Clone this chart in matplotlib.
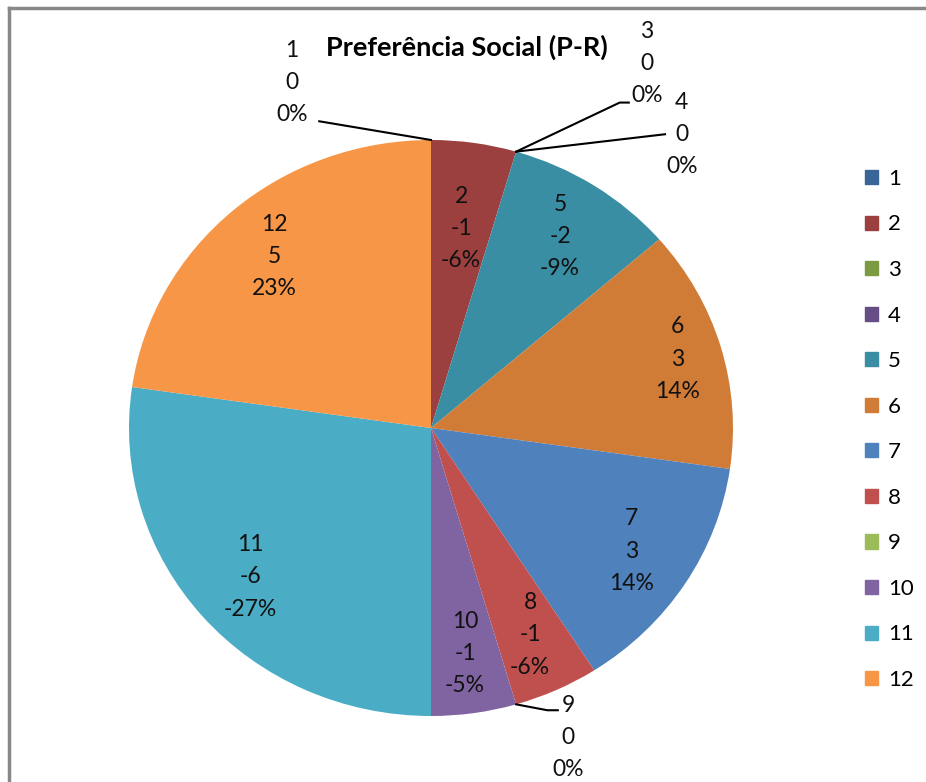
import numpy as np
import matplotlib.pyplot as plt
from matplotlib.lines import Line2D

plt.rcParams['font.family'] = ['Lato', 'DejaVu Sans']

categories = ['1', '2', '3', '4', '5', '6', '7', '8', '9', '10', '11', '12']
values = [0, -1, 0, 0, -2, 3, 3, -1, 0, -1, -6, 5]
pct_labels = ['0%', '-6%', '0%', '0%', '-9%', '14%', '14%', '-6%', '0%', '-5%', '-27%', '23%']
colors = ['#3A6598', '#9B403E', '#7B9A42', '#654E85', '#3A8EA4', '#D07C37',
          '#4F81BD', '#C0504D', '#9BBB59', '#8064A2', '#4BACC6', '#F79646']

# label placement (layout only)
label_r = {'2': 0.70, '6': 0.85}
zero_label_pos = {'1': (-0.46, 1.20), '3': (0.715, 1.265), '4': (0.83, 1.02), '9': (0.455, -1.075)}
zero_leader_end = {'1': [(-0.37, 1.065)], '3': [(0.625, 1.13), (0.655, 1.13)],
                   '4': [(0.775, 1.02)], '9': [(0.385, -0.98), (0.42, -0.98)]}

fig = plt.figure(figsize=(9.26, 7.82), dpi=100)
ax = fig.add_axes([129 / 926, 66 / 782, 604 / 926, 576 / 782])

sizes = np.abs(values)
wedges, _ = ax.pie(sizes, colors=colors, startangle=90, counterclock=False,
                   radius=1, wedgeprops=dict(linewidth=0))
ax.set_aspect('auto')
ax.set_xlim(-1, 1)
ax.set_ylim(-1, 1)
ax.axis('off')

for w, cat, val, pct in zip(wedges, categories, values, pct_labels):
    txt = f'{cat}\n{val}\n{pct}'
    if val != 0:
        mid = np.deg2rad((w.theta1 + w.theta2) / 2)
        r = label_r.get(cat, 0.79)
        ax.text(r * np.cos(mid), r * np.sin(mid), txt, ha='center', va='center',
                fontsize=16.5, linespacing=1.65, color='#111111')
    else:
        ang = np.deg2rad(w.theta1)
        start = (np.cos(ang), np.sin(ang))
        pts = [start] + zero_leader_end[cat]
        ax.plot([p[0] for p in pts], [p[1] for p in pts], color='black', lw=1.5, clip_on=False)
        x, y = zero_label_pos[cat]
        ax.text(x, y, txt, ha='center', va='center', fontsize=16.5, linespacing=1.65, color='#111111')

fig.text(467 / 926, 1 - 47 / 782, 'Preferência Social (P-R)', ha='center', va='center',
         fontsize=19.5, fontweight='bold')

handles = [plt.Rectangle((0, 0), 1, 1, color=c) for c in colors]
fig.legend(handles, categories, loc='upper left', bbox_to_anchor=(856 / 926, 1 - 160 / 782),
           frameon=False, fontsize=16, handlelength=0.6, handleheight=0.6,
           handletextpad=0.45, labelspacing=1.15, borderaxespad=0)

fig.add_artist(Line2D([9 / 926, 9 / 926], [0, 1 - 8 / 782], color='#888888', lw=2.5))
fig.add_artist(Line2D([9 / 926, 1], [1 - 8 / 782, 1 - 8 / 782], color='#888888', lw=2.5))

fig.savefig('out.png', dpi=100)
